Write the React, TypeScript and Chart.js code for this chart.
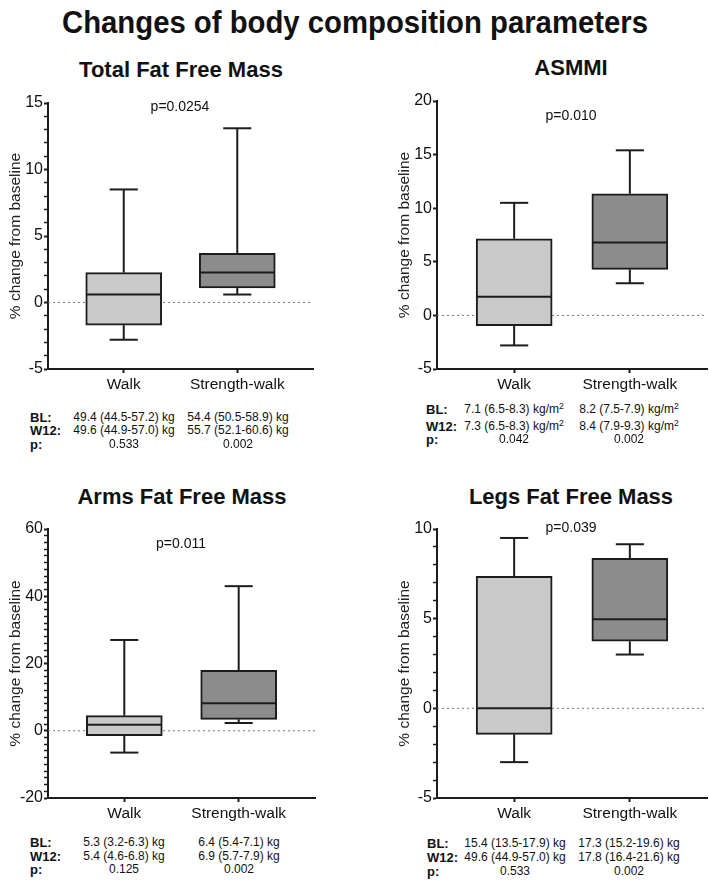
import React, { useEffect, useRef } from 'react';
import { Chart, registerables } from 'chart.js';
Chart.register(...registerables);

const FONT = "'Liberation Sans', Arial, Helvetica, sans-serif";
const INK = '#1c1c1c';

// ---- data ----
const categories = ['Walk', 'Strength-walk'];
const xPositions = [0, 1];
const boxColors = ['#c9c9c9', '#8c8c8c'];

// box stats: [min, q1, median, q3, max]
const totalWalk = [-2.8, -1.7, 0.6, 2.25, 8.5];
const totalStrength = [0.6, 1.1, 2.25, 3.7, 13.1];
const asmmiWalk = [-2.8, -0.95, 1.75, 7.15, 10.5];
const asmmiStrength = [3.0, 4.3, 6.8, 11.35, 15.4];
const armsWalk = [-6.5, -1.5, 1.8, 4.5, 27];
const armsStrength = [2.3, 3.4, 8.2, 18, 43];
const legsWalk = [-3.0, -1.45, 0, 7.36, 9.5];
const legsStrength = [3.0, 3.74, 4.97, 8.37, 9.15];

// y tick labels (major) and minor tick steps
const totalTicks = [-5, 0, 5, 10, 15];
const asmmiTicks = [-5, 0, 5, 10, 15, 20];
const armsTicks = [-20, 0, 20, 40, 60];
const legsTicks = [-5, 0, 5, 10];
const totalMinor = 1;
const asmmiMinor = 5;
const armsMinor = 2;
const legsMinor = 1;

const titles = ['Total Fat Free Mass', 'ASMMI', 'Arms Fat Free Mass', 'Legs Fat Free Mass'];
const pValues = ['p=0.0254', 'p=0.010', 'p=0.011', 'p=0.039'];
const rowLabels = ['BL:', 'W12:', 'p:'];

const totalBL = ['49.4 (44.5-57.2)', '54.4 (50.5-58.9)'];
const totalW12 = ['49.6 (44.9-57.0)', '55.7 (52.1-60.6)'];
const totalP = ['0.533', '0.002'];
const asmmiBL = ['7.1 (6.5-8.3)', '8.2 (7.5-7.9)'];
const asmmiW12 = ['7.3 (6.5-8.3)', '8.4 (7.9-9.3)'];
const asmmiP = ['0.042', '0.002'];
const armsBL = ['5.3 (3.2-6.3)', '6.4 (5.4-7.1)'];
const armsW12 = ['5.4 (4.6-6.8)', '6.9 (5.7-7.9)'];
const armsP = ['0.125', '0.002'];
const legsBL = ['15.4 (13.5-17.9)', '17.3 (15.2-19.6)'];
const legsW12 = ['49.6 (44.9-57.0)', '17.8 (16.4-21.6)'];
const legsP = ['0.533', '0.002'];

type BoxProps = {
  walk: number[];
  strength: number[];
  ticks: number[];
  minor: number;
  left: number;
  top: number;
  width: number;
  height: number;
};

function BoxChart(p: BoxProps) {
  const ref = useRef<HTMLCanvasElement>(null);
  useEffect(() => {
    const stats = [p.walk, p.strength];
    const majors = p.ticks;
    const plugin = {
      id: 'boxWhiskers',
      beforeDatasetsDraw(chart: any) {
        const { ctx, chartArea, scales } = chart;
        const y0 = scales.y.getPixelForValue(0);
        ctx.save();
        ctx.strokeStyle = '#777';
        ctx.lineWidth = 1;
        ctx.setLineDash([2, 3]);
        ctx.beginPath();
        ctx.moveTo(chartArea.left, y0);
        ctx.lineTo(chartArea.right, y0);
        ctx.stroke();
        ctx.restore();
      },
      afterDatasetsDraw(chart: any) {
        const { ctx, scales } = chart;
        const meta = chart.getDatasetMeta(0);
        const py = (v: number) => scales.y.getPixelForValue(v);
        ctx.save();
        ctx.strokeStyle = INK;
        ctx.lineWidth = 2;
        const line = (x1: number, y1: number, x2: number, y2: number) => {
          ctx.beginPath();
          ctx.moveTo(x1, y1);
          ctx.lineTo(x2, y2);
          ctx.stroke();
        };
        meta.data.forEach((bar: any, i: number) => {
          const s = stats[i];
          const cx = bar.x;
          const half = bar.width / 2;
          const cap = half * 0.37;
          line(cx, py(s[3]), cx, py(s[4]));
          line(cx - cap, py(s[4]), cx + cap, py(s[4]));
          line(cx, py(s[1]), cx, py(s[0]));
          line(cx - cap, py(s[0]), cx + cap, py(s[0]));
          line(cx - half + 1, py(s[2]), cx + half - 1, py(s[2]));
        });
        ctx.restore();
      },
    };
    const chart = new Chart(ref.current as HTMLCanvasElement, {
      type: 'bar',
      data: {
        datasets: [
          {
            data: xPositions.map((x, i) => ({ x, y: [stats[i][1], stats[i][3]] })) as any,
            backgroundColor: boxColors,
            borderColor: INK,
            borderWidth: 2,
            borderSkipped: false,
            barThickness: 76,
          },
        ],
      },
      options: {
        animation: false,
        responsive: false,
        devicePixelRatio: 1,
        layout: { padding: { top: 12, right: 2, left: 0, bottom: 0 } },
        plugins: { legend: { display: false }, tooltip: { enabled: false }, title: { display: false } },
        scales: {
          x: {
            type: 'linear',
            min: -0.667,
            max: 1.667,
            offset: false,
            afterBuildTicks: (s: any) => {
              s.ticks = xPositions.map((v) => ({ value: v }));
            },
            afterFit: (s: any) => {
              s.height = 30;
            },
            ticks: {
              autoSkip: false,
              maxRotation: 0,
              padding: 2,
              color: '#111',
              font: { family: FONT, size: 15.5 },
              callback: (v: any) => {
                const i = xPositions.indexOf(Number(v));
                return i >= 0 ? categories[i] : '';
              },
            },
            grid: { offset: false, drawOnChartArea: false, drawTicks: true, tickLength: 4, tickWidth: 2, tickColor: INK },
            border: { color: INK, width: 2 },
          },
          y: {
            type: 'linear',
            min: majors[0],
            max: majors[majors.length - 1],
            afterFit: (s: any) => {
              s.width = 48;
            },
            ticks: {
              stepSize: p.minor,
              autoSkip: false,
              padding: 1,
              color: '#111',
              font: { family: FONT, size: 16 },
              callback: (v: any) => (majors.includes(Number(v)) ? String(v) : ''),
            },
            grid: {
              drawOnChartArea: false,
              drawTicks: true,
              tickLength: 4,
              tickColor: INK,
              tickWidth: (c: any) => (c.tick && majors.includes(c.tick.value) ? 2 : 1.5),
            },
            border: { color: INK, width: 2 },
            title: {
              display: true,
              text: '% change from baseline',
              color: '#222',
              font: { family: FONT, size: 15.5 },
              padding: { top: 6, bottom: 0 },
            },
          },
        },
      },
      plugins: [plugin],
    } as any);
    return () => chart.destroy();
  }, []);
  return (
    <canvas
      ref={ref}
      width={p.width}
      height={p.height}
      style={{ position: 'absolute', left: p.left, top: p.top, width: p.width, height: p.height }}
    />
  );
}

function Txt(props: { x: number; y: number; size: number; bold?: boolean; align?: 'left' | 'center'; sx?: number; children: any }) {
  const align = props.align || 'center';
  const sx = props.sx ? ` scaleX(${props.sx})` : '';
  return (
    <div
      style={{
        position: 'absolute',
        left: props.x,
        top: props.y,
        transform: (align === 'center' ? 'translate(-50%, -50%)' : 'translate(0, -50%)') + sx,
        fontFamily: FONT,
        fontSize: props.size,
        fontWeight: props.bold ? 'bold' : 'normal',
        lineHeight: 1,
        whiteSpace: 'nowrap',
        color: '#111',
      }}
    >
      {props.children}
    </div>
  );
}

function Unit({ sq }: { sq: boolean }) {
  if (!sq) return <span> kg</span>;
  return (
    <span>
      {' '}kg/m<span style={{ fontSize: '0.72em', position: 'relative', top: '-0.45em' }}>2</span>
    </span>
  );
}

function Stats(props: { labelX: number; cols: number[]; ys: number[]; rows: string[][]; sq: boolean }) {
  return (
    <>
      {props.rows.map((vals, r) => (
        <React.Fragment key={r}>
          <Txt x={props.labelX} y={props.ys[r]} size={13} bold align="left">
            {rowLabels[r]}
          </Txt>
          {vals.map((v, c) => (
            <Txt key={c} x={props.cols[c]} y={props.ys[r]} size={12}>
              {v}
              {r < 2 ? <Unit sq={props.sq} /> : null}
            </Txt>
          ))}
        </React.Fragment>
      ))}
    </>
  );
}

export default function App() {
  return (
    <div style={{ position: 'absolute', left: 0, top: 0, width: 709, height: 881, background: '#fff', overflow: 'hidden' }}>
      <Txt x={355} y={22} size={31} bold sx={0.945}>
        Changes of body composition parameters
      </Txt>

      <Txt x={181} y={70} size={22} bold>{titles[0]}</Txt>
      <Txt x={571} y={68} size={22} bold>{titles[1]}</Txt>
      <Txt x={182} y={497} size={22} bold>{titles[2]}</Txt>
      <Txt x={571} y={497} size={22} bold>{titles[3]}</Txt>

      <BoxChart walk={totalWalk} strength={totalStrength} ticks={totalTicks} minor={totalMinor} left={0} top={91} width={315} height={308} />
      <BoxChart walk={asmmiWalk} strength={asmmiStrength} ticks={asmmiTicks} minor={asmmiMinor} left={389} top={89} width={320} height={310} />
      <BoxChart walk={armsWalk} strength={armsStrength} ticks={armsTicks} minor={armsMinor} left={0} top={517} width={317} height={311} />
      <BoxChart walk={legsWalk} strength={legsStrength} ticks={legsTicks} minor={legsMinor} left={389} top={517} width={320} height={311} />

      <Txt x={180} y={106} size={14}>{pValues[0]}</Txt>
      <Txt x={571} y={115} size={14}>{pValues[1]}</Txt>
      <Txt x={181} y={543} size={14}>{pValues[2]}</Txt>
      <Txt x={571} y={527} size={14}>{pValues[3]}</Txt>

      <Stats labelX={30} cols={[124, 238]} ys={[417, 430, 444]} rows={[totalBL, totalW12, totalP]} sq={false} />
      <Stats labelX={426} cols={[514, 629]} ys={[409, 426, 439]} rows={[asmmiBL, asmmiW12, asmmiP]} sq={true} />
      <Stats labelX={30} cols={[124, 239]} ys={[842, 856, 869]} rows={[armsBL, armsW12, armsP]} sq={false} />
      <Stats labelX={427} cols={[515, 629]} ys={[843, 857, 871]} rows={[legsBL, legsW12, legsP]} sq={false} />
    </div>
  );
}
